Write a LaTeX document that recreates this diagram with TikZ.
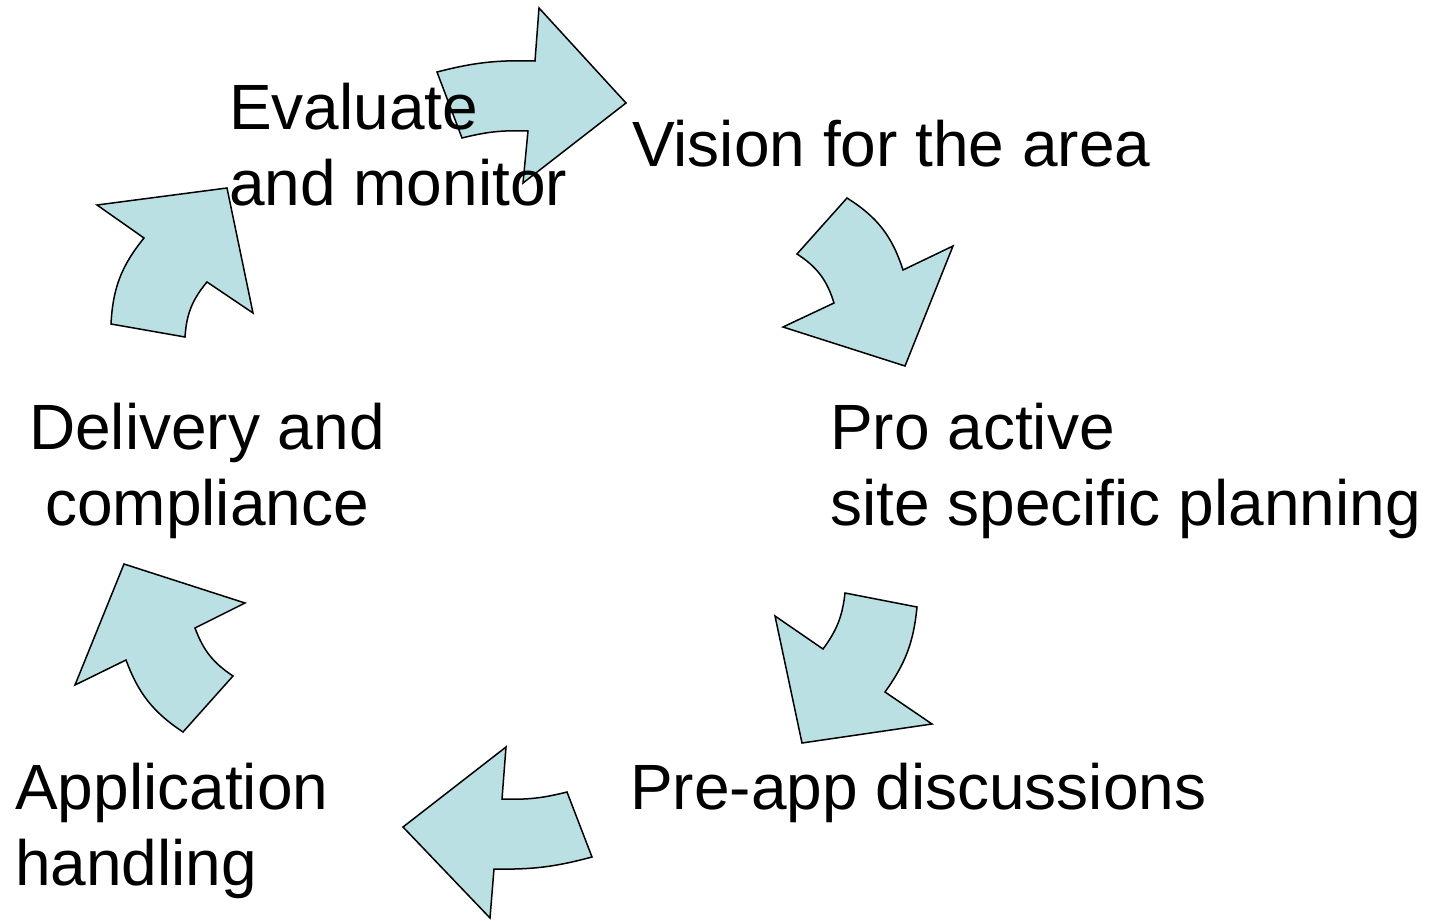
\documentclass[tikz,border=0pt]{standalone}
\usepackage{fontspec}
\setmainfont{Liberation Sans}
\definecolor{cyclefill}{RGB}{187,224,227}

\begin{document}
\begin{tikzpicture}[x=1pt,y=-1pt,
    cyclearrow/.style={draw=black,fill=cyclefill,line width=1.5pt,line join=miter},
    stage/.style={inner sep=0pt,anchor=base west,font=\fontsize{64}{76}\selectfont}]
\useasboundingbox (0,0) rectangle (1444,921);

% the six bent arrows, clockwise from the top
\draw[cyclearrow] (437,72) to[bend left=8] (535,61) -- (539,8) -- (626,103)
    -- (523,183) -- (528,131) to[bend right=8] (462,138) -- cycle;
\draw[cyclearrow] (847,198) -- (797,254) to[bend left=20] (834,303) -- (783,327)
    -- (905,366) -- (953,246) -- (903,270) to[bend right=20] cycle;
\draw[cyclearrow] (845,593) -- (917,607) to[bend left=15] (885,692) -- (932,724)
    -- (802,743) -- (775,616) -- (823,649) to[bend right=15] cycle;
\draw[cyclearrow] (567,792) -- (592,857) to[bend left=8] (494,869) -- (490,918)
    -- (403,827) -- (506,747) -- (502,799) to[bend right=8] cycle;
\draw[cyclearrow] (183,732) -- (233,676) to[bend left=18] (195,628) -- (245,603)
    -- (124,564) -- (75,685) -- (126,660) to[bend right=18] cycle;
\draw[cyclearrow] (111,324) -- (185,337) to[bend left=18] (207,282) -- (253,313)
    -- (227,188) -- (97,205) -- (144,238) to[bend right=18] cycle;

% stage labels (base of a two-line node is its last line)
\node[stage,align=left] (evaluate) at (229,205) {Evaluate\\and monitor};
\node[stage] (vision) at (632,166) {Vision for the area};
\node[stage,align=left] (proactive) at (830,525) {Pro active\\site specific planning};
\node[stage] (preapp) at (630,809) {Pre-app discussions};
\node[stage,align=left] (application) at (15,885) {Application\\handling};
\node[stage,align=center,anchor=base] (delivery) at (207,525) {Delivery and\\compliance};

\end{tikzpicture}
\end{document}
